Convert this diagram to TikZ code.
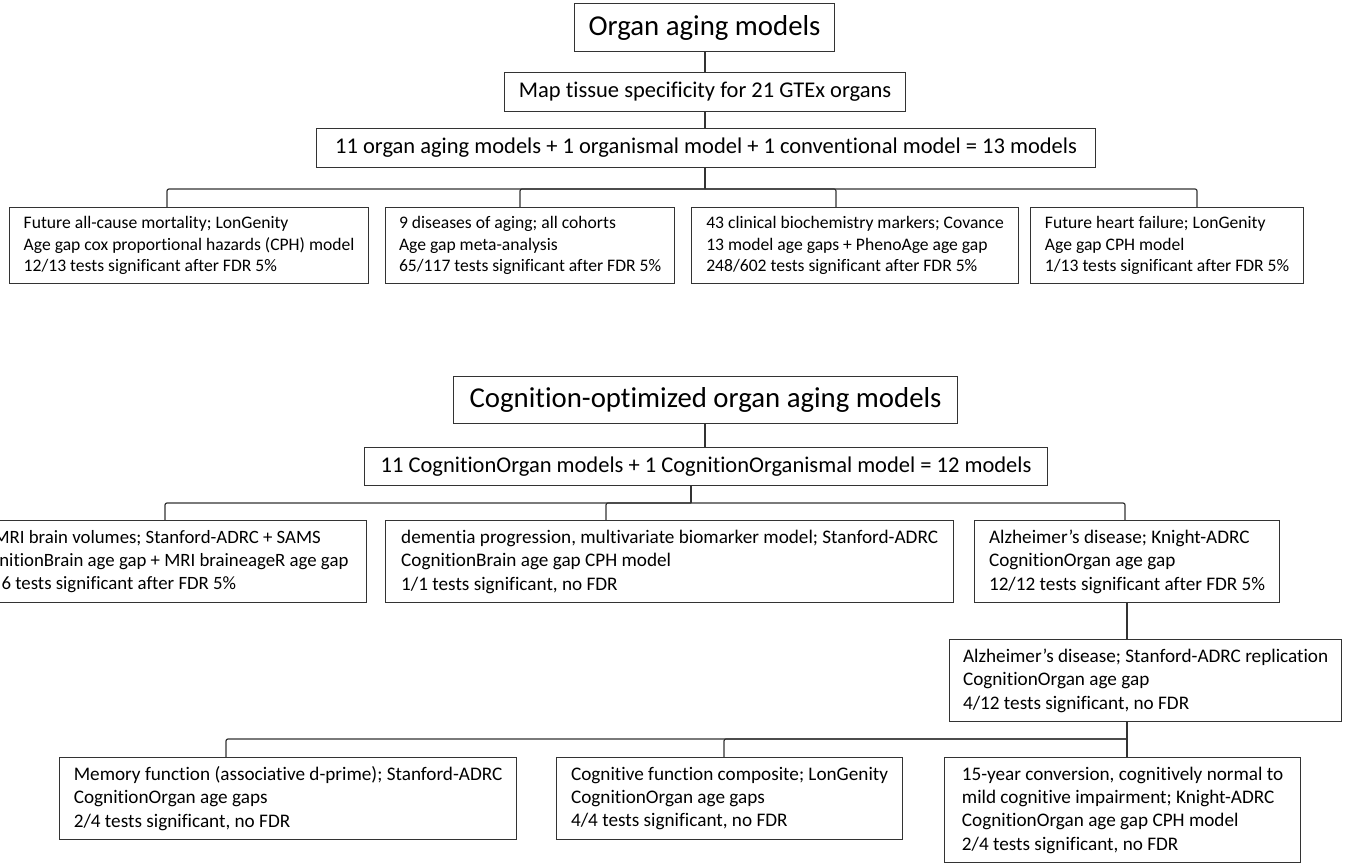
\documentclass[tikz,border=0pt]{standalone}
\usepackage{fontspec}
\setmainfont{Carlito}[Ligatures=NoCommon]
\tikzset{
    tree/.style={x=1pt,y=-1pt,line width=1.2pt},
    bighead/.style={draw=black!80, anchor=north west, inner sep=0pt,
                    font=\fontsize{28.8}{34}\selectfont},
    head/.style={draw=black!80, anchor=north west, inner sep=0pt,
                 font=\fontsize{22.5}{27}\selectfont},
    card/.style={draw=black!80, anchor=north west, align=left,
                 inner xsep=11pt, inner ysep=0pt,
                 font=\fontsize{17.6}{21.4}\selectfont},
    cardb/.style={card, font=\fontsize{19.2}{23.4}\selectfont},
    link/.style={draw=black!80, rounded corners=2pt},
    }
\begin{document}
\begin{tikzpicture}[tree]
    \useasboundingbox (0,0) rectangle (1348,867);
    \clip (0,0) rectangle (1348,867);

    % organ aging models
    \node[bighead, minimum width=260pt, minimum height=48pt] (organ) at (574,3) {Organ aging models};
    \node[head, minimum width=401pt, minimum height=39pt] (gtex) at (504,72) {Map tissue specificity for 21 GTEx organs};
    \node[head, minimum width=779pt, minimum height=39pt] (models) at (316,128) {11 organ aging models + 1 organismal model + 1 conventional model = 13 models};

    \node[card, minimum width=359pt, minimum height=76pt] (mort) at (9,207) {Future all-cause mortality; LonGenity\\Age gap cox proportional hazards (CPH) model\\12/13 tests significant after FDR 5\%};
    \node[card, minimum width=289pt, minimum height=76pt] (dis) at (385,207) {9 diseases of aging; all cohorts\\Age gap meta-analysis\\65/117 tests significant after FDR 5\%};
    \node[card, minimum width=327pt, minimum height=76pt] (chem) at (691,207) {43 clinical biochemistry markers; Covance\\13 model age gaps + PhenoAge age gap\\248/602 tests significant after FDR 5\%};
    \node[card, minimum width=273pt, minimum height=76pt] (hf) at (1030,207) {Future heart failure; LonGenity\\Age gap CPH model\\1/13 tests significant after FDR 5\%};

    \coordinate (j1) at (705,189);
    \draw[link] (organ.south -| j1) -- (gtex.north -| j1);
    \draw[link] (gtex.south -| j1) -- (models.north -| j1);
    \draw[link] (models.south -| j1) -- (j1);
    \foreach \n/\dx in {mort/158, dis/135, chem/145, hf/167}
        \draw[link] (j1) -| ([xshift=\dx pt]\n.north west);

    % cognition-optimized models
    \node[bighead, minimum width=504pt, minimum height=47pt] (cog) at (453,376) {Cognition-optimized organ aging models};
    \node[head, minimum width=683pt, minimum height=38pt] (cogmodels) at (364,447) {11 CognitionOrgan models + 1 CognitionOrganismal model = 12 models};

    % left edge of this box runs off the page
    \node[card, anchor=north east, inner xsep=18pt, minimum height=82pt, font=\fontsize{18.8}{23}\selectfont] (mri) at (367,520) {\hspace*{23pt}MRI brain volumes; Stanford-ADRC + SAMS\\CognitionBrain age gap + MRI braineageR age gap\\\hspace*{31pt}6 tests significant after FDR 5\%};
    \node[cardb, minimum width=568pt, minimum height=82pt] (dem) at (385,520) {dementia progression, multivariate biomarker model; Stanford-ADRC\\CognitionBrain age gap CPH model\\1/1 tests significant, no FDR};
    \node[cardb, minimum width=305pt, minimum height=82pt] (adk) at (974,520) {Alzheimer’s disease; Knight-ADRC\\CognitionOrgan age gap\\12/12 tests significant after FDR 5\%};
    \node[cardb, minimum width=392pt, minimum height=82pt] (ads) at (949,639) {Alzheimer’s disease; Stanford-ADRC replication\\CognitionOrgan age gap\\4/12 tests significant, no FDR};

    \node[cardb, minimum width=457pt, minimum height=82pt] (mem) at (59,757) {Memory function (associative d-prime); Stanford-ADRC\\CognitionOrgan age gaps\\2/4 tests significant, no FDR};
    \node[cardb, minimum width=346pt, minimum height=82pt] (cfc) at (556,757) {Cognitive function composite; LonGenity\\CognitionOrgan age gaps\\4/4 tests significant, no FDR};
    \node[cardb, minimum width=356pt, minimum height=105pt] (mci) at (944,757) {15-year conversion, cognitively normal to\\mild cognitive impairment; Knight-ADRC\\CognitionOrgan age gap CPH model\\2/4 tests significant, no FDR};

    \draw[link] (cog.south -| j1) -- (cogmodels.north -| j1);
    \coordinate (j2) at (691,503);
    \draw[link] (cogmodels.south -| j2) -- (j2);
    \draw[link] (j2) -| ([xshift=-202pt]mri.north east);
    \foreach \n/\dx in {dem/221, adk/151}
        \draw[link] (j2) -| ([xshift=\dx pt]\n.north west);

    \coordinate (j3) at (1127,739);
    \draw[link] (adk.south -| j3) -- (ads.north -| j3);
    \draw[link] (ads.south -| j3) -- (mci.north -| j3);
    \foreach \n/\dx in {mem/167, cfc/168}
        \draw[link] (j3) -| ([xshift=\dx pt]\n.north west);
\end{tikzpicture}
\end{document}
